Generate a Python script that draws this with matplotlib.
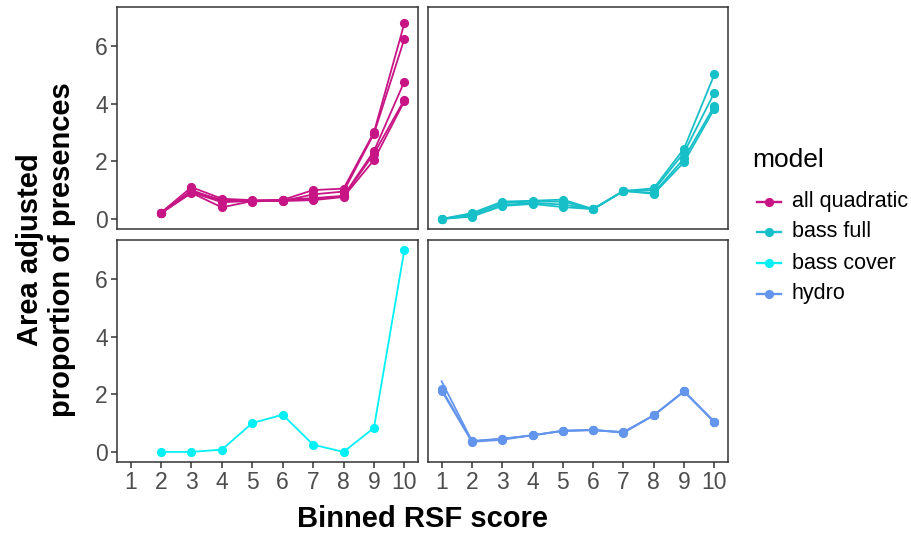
import matplotlib
matplotlib.use("Agg")
import matplotlib.pyplot as plt
from matplotlib.lines import Line2D

plt.rcParams['font.family'] = ['Liberation Sans', 'DejaVu Sans']

# Binned RSF score (x) for each panel
bins = [1, 2, 3, 4, 5, 6, 7, 8, 9, 10]

# all quadratic: several model fits, bins 2-10
aq_bins = [2, 3, 4, 5, 6, 7, 8, 9, 10]
all_quadratic = [
    [0.22, 1.10, 0.70, 0.65, 0.66, 1.00, 1.05, 3.00, 6.78],
    [0.20, 1.00, 0.62, 0.62, 0.62, 0.85, 0.95, 2.95, 6.24],
    [0.20, 0.95, 0.66, 0.60, 0.66, 0.72, 0.80, 2.35, 4.76],
    [0.20, 0.92, 0.58, 0.62, 0.64, 0.70, 0.78, 2.26, 4.13],
    [0.20, 0.90, 0.40, 0.62, 0.62, 0.65, 0.76, 2.04, 4.08],
]

# bass full: bins 1-10
bass_full = [
    [0.00, 0.20, 0.60, 0.63, 0.67, 0.34, 0.97, 1.06, 2.44, 5.01],
    [0.00, 0.15, 0.55, 0.60, 0.60, 0.34, 0.97, 1.00, 2.30, 4.38],
    [0.00, 0.10, 0.48, 0.55, 0.50, 0.34, 0.97, 0.90, 2.10, 3.92],
    [0.00, 0.08, 0.45, 0.52, 0.41, 0.34, 0.97, 0.87, 1.97, 3.82],
]

# bass cover: bins 2-10
bc_bins = [2, 3, 4, 5, 6, 7, 8, 9, 10]
bass_cover = [
    [0.00, 0.00, 0.08, 1.00, 1.29, 0.25, 0.00, 0.83, 7.00],
]

# hydro: bins 1-10
hydro = [
    [2.18, 0.37, 0.45, 0.58, 0.73, 0.75, 0.68, 1.27, 2.10, 1.03],
    [2.12, 0.35, 0.42, 0.58, 0.72, 0.77, 0.66, 1.27, 2.10, 1.05],
    [2.45, 0.38, 0.46, 0.57, 0.74, 0.76, 0.69, 1.27, 2.10, 1.03],
]

model_names = ["all quadratic", "bass full", "bass cover", "hydro"]
model_colors = ["#C71585", "#17C0C8", "#00F0F5", "#6495ED"]

y_ticks = [0, 2, 4, 6]
x_ticks = bins

fig = plt.figure(figsize=(9.12, 5.36), dpi=100)
W, H = 912, 536


def panel(x0, y0, x1, y1):
    return fig.add_axes([x0 / W, 1 - y1 / H, (x1 - x0) / W, (y1 - y0) / H])


def fx(px):
    return px / W


def fy(py):
    return 1 - py / H


ax_tl = panel(117, 7, 418, 229)
ax_tr = panel(428, 7, 728, 229)
ax_bl = panel(117, 240, 418, 462)
ax_br = panel(428, 240, 728, 462)

tick_color = "#4D4D4D"
LW, MS = 1.3, 5.6

panels = [
    (ax_tl, aq_bins, all_quadratic, model_colors[0], None),
    (ax_tr, bins, bass_full, model_colors[1], None),
    (ax_bl, bc_bins, bass_cover, model_colors[2], None),
    (ax_br, bins, hydro, model_colors[3], [None, None, slice(1, None)]),
]

for ax, xs, series, col, marks in panels:
    for i, ys in enumerate(series):
        me = None if marks is None else marks[i]
        ax.plot(xs, ys, color=col, lw=LW, marker="o", ms=MS,
                markevery=me, solid_joinstyle="round")
    ax.set_xlim(0.55, 10.45)
    ax.set_ylim(-0.35, 7.35)
    ax.set_xticks(x_ticks)
    ax.set_yticks(y_ticks)
    for s in ax.spines.values():
        s.set_color("#333333")
        s.set_linewidth(1.1)
    ax.tick_params(colors="#333333", labelcolor=tick_color, labelsize=16.5,
                   length=4, width=1.1, pad=2.5)

for ax in (ax_tl, ax_tr):
    ax.tick_params(axis="x", bottom=False, labelbottom=False)
for ax in (ax_tr, ax_br):
    ax.tick_params(axis="y", left=False, labelleft=False)

fig.text(fx(423), fy(519), "Binned RSF score", ha="center", va="center",
         fontsize=21, fontweight="bold")
fig.text(fx(46), fy(250), "Area adjusted\nproportion of presences",
         ha="center", va="center", rotation=90, fontsize=21,
         fontweight="bold", linespacing=1.15)

# legend
fig.text(fx(752), fy(160), "model", ha="left", va="center", fontsize=19)
row_y = [202, 232, 263, 294]
for name, col, ry in zip(model_names, model_colors, row_y):
    fig.add_artist(Line2D([fx(757), fx(781)], [fy(ry), fy(ry)], color=col,
                          lw=LW * 1.3, transform=fig.transFigure))
    fig.add_artist(Line2D([fx(769)], [fy(ry)], color=col, marker="o", ms=MS,
                          transform=fig.transFigure))
    fig.text(fx(792), fy(ry), name, ha="left", va="center", fontsize=15.5)

fig.savefig("out.png", dpi=100)
